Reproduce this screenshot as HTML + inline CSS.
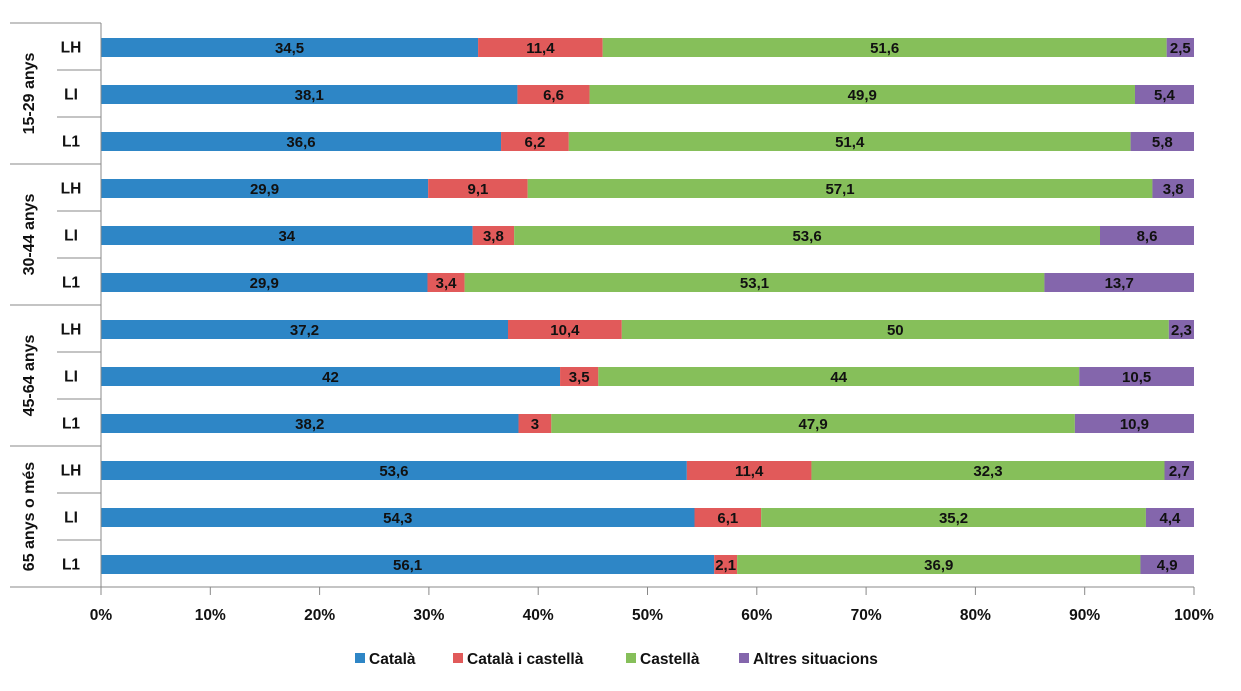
<!DOCTYPE html>
<html><head><meta charset="utf-8"><style>
body{margin:0;background:#fff;}
svg{display:block;font-family:"Liberation Sans",sans-serif;font-weight:bold;}
</style></head><body>
<svg id="chart" width="1241" height="691"></svg>
<script>
const groups = ["15-29 anys","30-44 anys","45-64 anys","65 anys o més"];
const rowLabels = ["LH","LI","L1"];
const seriesNames = ["Català","Català i castellà","Castellà","Altres situacions"];
const catala =   [34.5,38.1,36.6, 29.9,34,29.9, 37.2,42,38.2, 53.6,54.3,56.1];
const catCast =  [11.4,6.6,6.2, 9.1,3.8,3.4, 10.4,3.5,3, 11.4,6.1,2.1];
const castella = [51.6,49.9,51.4, 57.1,53.6,53.1, 50,44,47.9, 32.3,35.2,36.9];
const altres =   [2.5,5.4,5.8, 3.8,8.6,13.7, 2.3,10.5,10.9, 2.7,4.4,4.9];
const ticks = [0,10,20,30,40,50,60,70,80,90,100];
const colors = ["#2e86c6","#e15a5a","#86bf5a","#8466ac"];

const svg = document.getElementById('chart');
const NS = "http://www.w3.org/2000/svg";
const x0 = 101, x1 = 1194, yTop = 23, yBot = 587;
const nRows = catala.length, pitch = (yBot - yTop) / nRows, barH = 19;
const xs = v => x0 + (x1 - x0) * v / 100;
const yc = i => yTop + pitch * (i + 0.5) + 1;
function mk(tag, attrs, parent){const e=document.createElementNS(NS,tag);for(const k in attrs)e.setAttribute(k,attrs[k]);(parent||svg).appendChild(e);return e;}

const series = [catala, catCast, castella, altres];
for (let i = 0; i < nRows; i++) {
  const total = series.reduce((s,a)=>s+a[i],0);
  let acc = 0;
  series.forEach((arr, s) => {
    const v = arr[i] / total * 100;
    const r = mk('rect',{x:xs(acc),y:yc(i)-barH/2,width:xs(acc+v)-xs(acc),height:barH,fill:colors[s]});
    
    
    const t = mk('text',{x:(xs(acc)+xs(acc+v))/2,y:yc(i)+5.5,'text-anchor':'middle','font-size':'15',fill:'#111'});
    t.textContent = String(arr[i]).replace('.', ',');
    
    
    acc += v;
  });
  const rl = mk('text',{x:71,y:yc(i)+5,'text-anchor':'middle','font-size':'15.5',fill:'#111'});
  rl.textContent = rowLabels[i % 3];
  
  
}
const ax = mk('line',{x1:x0,y1:yTop,x2:x0,y2:yBot+8,stroke:'#888','stroke-width':1});


const bx = mk('line',{x1:10,y1:yBot,x2:x1,y2:yBot,stroke:'#888','stroke-width':1});


mk('line',{x1:10,y1:yTop,x2:x0,y2:yTop,stroke:'#888'});
for (let i = 1; i < nRows; i++) {
  const y = yTop + pitch * i;
  mk('line',{x1:(i%3===0)?10:57,y1:y,x2:x0,y2:y,stroke:'#888'});
}
groups.forEach((g, gi) => {
  const cy = yTop + pitch * (gi*3 + 1.5);
  const t = mk('text',{x:0,y:0,transform:`translate(34,${cy}) rotate(-90)`,'text-anchor':'middle','font-size':'16',fill:'#111'});
  t.textContent = g;
  
  
});
ticks.forEach(v => {
  mk('line',{x1:xs(v),y1:yBot,x2:xs(v),y2:yBot+8,stroke:'#888'});
  const t = mk('text',{x:xs(v),y:620,'text-anchor':'middle','font-size':'15.5',fill:'#111'});
  t.textContent = v + '%';
  
  
});
const legX = [355, 453, 626, 739];
seriesNames.forEach((n, s) => {
  const g = mk('g',{});
  
  
  mk('rect',{x:legX[s],y:653,width:10,height:10,fill:colors[s]},g);
  const t = mk('text',{x:legX[s]+14,y:664,'font-size':'15.5',fill:'#111'},g);
  t.textContent = n;
});
</script>
</body></html>
